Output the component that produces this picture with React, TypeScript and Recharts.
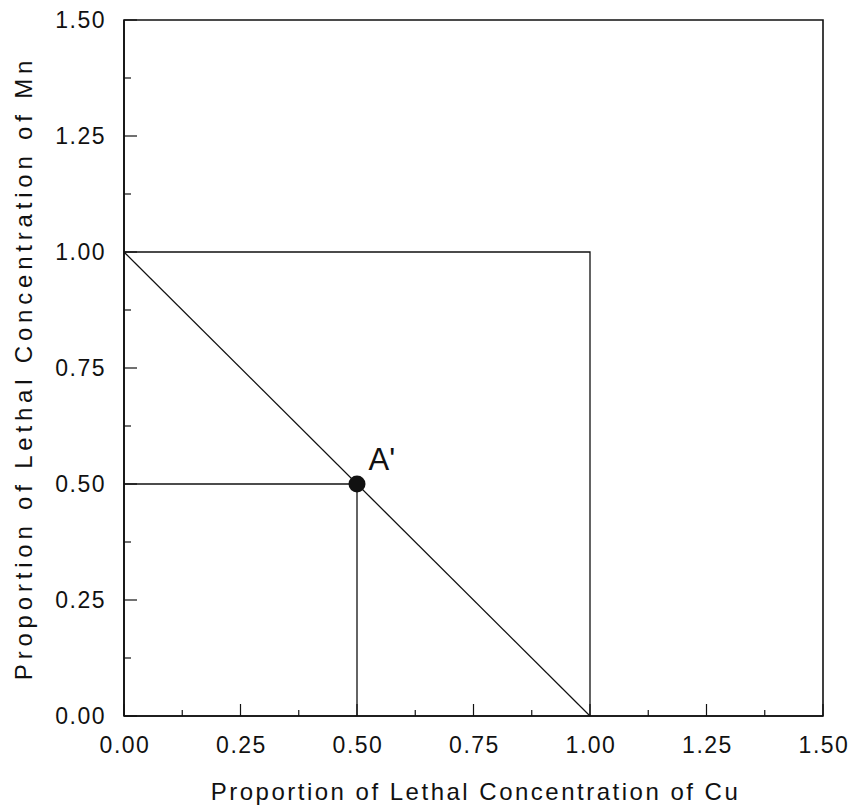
import React from "react";
import {
  ComposedChart,
  Line,
  Scatter,
  XAxis,
  YAxis,
  ReferenceArea,
  Label,
  LabelList,
} from "recharts";

// Unit-toxicity isobole for a Cu + Mn mixture
const isobole = [
  { x: 0, y: 1 },
  { x: 1, y: 0 },
];
const boundary = [
  { x: 0, y: 1 },
  { x: 1, y: 1 },
  { x: 1, y: 0 },
];
const mnGuide = [
  { x: 0, y: 0.5 },
  { x: 0.5, y: 0.5 },
];
const cuGuide = [
  { x: 0.5, y: 0.5 },
  { x: 0.5, y: 0 },
];
const mixturePoint = [{ x: 0.5, y: 0.5, name: "A'" }];

const axisTicks = [
  0, 0.125, 0.25, 0.375, 0.5, 0.625, 0.75, 0.875, 1, 1.125, 1.25, 1.375, 1.5,
];
const labelledTicks = [0, 0.25, 0.5, 0.75, 1, 1.25, 1.5];

const FONT = "'Liberation Sans', Arial, Helvetica, sans-serif";
const INK = "#111";

const isLabelled = (v: number) =>
  labelledTicks.some((t) => Math.abs(t - v) < 1e-9);

const XTick = (props: any) => {
  const { x, y, payload } = props;
  const v = payload.value as number;
  const major = isLabelled(v);
  return (
    <g>
      <line x1={x} y1={y} x2={x} y2={y - (major ? 12 : 6)} stroke={INK} strokeWidth={1.2} />
      {major && (
        <text
          x={x + 1}
          y={y + 37}
          textAnchor="middle"
          fontFamily={FONT}
          fontSize={23}
          letterSpacing={1.5}
          fill={INK}
        >
          {v.toFixed(2)}
        </text>
      )}
    </g>
  );
};

const YTick = (props: any) => {
  const { x, y, payload } = props;
  const v = payload.value as number;
  const major = isLabelled(v);
  return (
    <g>
      <line x1={x} y1={y} x2={x + (major ? 13 : 7)} y2={y} stroke={INK} strokeWidth={1.2} />
      {major && (
        <text
          x={x - 18}
          y={y + 8}
          textAnchor="end"
          fontFamily={FONT}
          fontSize={23}
          letterSpacing={1.5}
          fill={INK}
        >
          {v.toFixed(2)}
        </text>
      )}
    </g>
  );
};

const XTitle = (props: any) => {
  const { x, y, width } = props.viewBox;
  return (
    <text
      x={x + width / 2 + 2}
      y={y + 84}
      textAnchor="middle"
      fontFamily={FONT}
      fontSize={24}
      letterSpacing={2.5}
      fill={INK}
    >
      Proportion of Lethal Concentration of Cu
    </text>
  );
};

const YTitle = (props: any) => {
  const { y, height } = props.viewBox;
  const cx = 24;
  const cy = y + height / 2;
  return (
    <text
      x={cx}
      y={cy}
      transform={`rotate(-90, ${cx}, ${cy})`}
      textAnchor="middle"
      fontFamily={FONT}
      fontSize={24}
      letterSpacing={4.8}
      fill={INK}
    >
      Proportion of Lethal Concentration of Mn
    </text>
  );
};

const PointLabel = (props: any) => {
  const { x, y, value } = props;
  return (
    <text x={x + 16} y={y - 9} fontFamily={FONT} fontSize={31} fill={INK}>
      {value}
    </text>
  );
};

const Dot = (props: any) => {
  const { cx, cy } = props;
  return <circle cx={cx} cy={cy} r={8.5} fill={INK} />;
};

export default function App() {
  return (
    <div style={{ width: 849, height: 804 }}>
      <ComposedChart
        width={849}
        height={804}
        margin={{ top: 12, right: 34, left: 0, bottom: 0 }}
      >
        <XAxis
          type="number"
          dataKey="x"
          domain={[0, 1.5]}
          ticks={axisTicks}
          interval={0}
          tickSize={0}
          tickMargin={0}
          tickLine={false}
          tick={<XTick />}
          height={96}
          axisLine={{ stroke: INK, strokeWidth: 1.6 }}
          allowDataOverflow
        >
          <Label content={<XTitle />} />
        </XAxis>
        <YAxis
          type="number"
          dataKey="y"
          domain={[0, 1.5]}
          ticks={axisTicks}
          interval={0}
          tickSize={0}
          tickMargin={0}
          tickLine={false}
          tick={<YTick />}
          width={116}
          axisLine={{ stroke: INK, strokeWidth: 1.6 }}
          allowDataOverflow
        >
          <Label content={<YTitle />} />
        </YAxis>
        <ReferenceArea
          x1={0}
          x2={1.5}
          y1={0}
          y2={1.5}
          fill="none"
          stroke={INK}
          strokeWidth={1.6}
          ifOverflow="visible"
        />
        <Line
          data={boundary}
          dataKey="y"
          stroke={INK}
          strokeWidth={1.3}
          dot={false}
          activeDot={false}
          type="linear"
          isAnimationActive={false}
        />
        <Line
          data={isobole}
          dataKey="y"
          stroke={INK}
          strokeWidth={1.3}
          dot={false}
          activeDot={false}
          type="linear"
          isAnimationActive={false}
        />
        <Line
          data={mnGuide}
          dataKey="y"
          stroke={INK}
          strokeWidth={1.3}
          dot={false}
          activeDot={false}
          type="linear"
          isAnimationActive={false}
        />
        <Line
          data={cuGuide}
          dataKey="y"
          stroke={INK}
          strokeWidth={1.3}
          dot={false}
          activeDot={false}
          type="linear"
          isAnimationActive={false}
        />
        <Scatter
          data={mixturePoint}
          dataKey="y"
          shape={<Dot />}
          isAnimationActive={false}
        >
          <LabelList dataKey="name" content={<PointLabel />} />
        </Scatter>
      </ComposedChart>
    </div>
  );
}
